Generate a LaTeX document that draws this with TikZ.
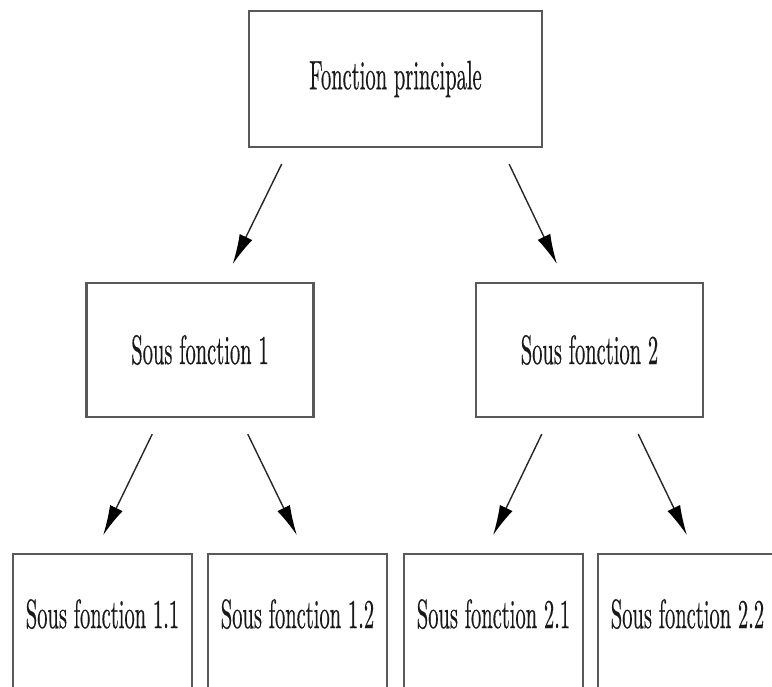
\documentclass[tikz,border=0pt]{standalone}
\usepackage{fontspec}
\setmainfont{lmroman10-regular.otf}[FakeBold=0.6]
\usepackage{graphicx}
\usetikzlibrary{arrows.meta,calc}

% condensed lettering used inside every box
\newcommand\narrowtext[1]{\scalebox{0.5}[1]{#1}}

\tikzset{
  fbox/.style={draw=black!65, line width=2.2pt, rectangle, inner sep=0pt,
    font=\fontsize{41}{49}\selectfont, text=black!90},
  midbox/.style={fbox, minimum width=227pt, minimum height=134pt},
  leafbox/.style={fbox, anchor=north, minimum width=179pt,
    text height=74pt, text depth=140pt},
  link/.style={draw=black!85, line width=1.4pt,
    -{Latex[length=30pt,width=14pt,fill=black,color=black]},
    shorten <=17.7pt, shorten >=19.9pt},
}

\begin{document}
\begin{tikzpicture}[x=1pt,y=1pt]
\useasboundingbox (0,0) rectangle (772,-687);
\clip (0,0) rectangle (772,-687);

% main function
\node[fbox, minimum width=293pt, minimum height=136pt] (top) at (395.5,-79)
  {\narrowtext{Fonction principale}};

% first-level sub-functions
\node[midbox] (s1) at (200,-350) {\narrowtext{Sous fonction 1}};
\node[midbox] (s2) at (589.5,-350) {\narrowtext{Sous fonction 2}};

% second-level sub-functions (boxes run past the lower edge)
\node[leafbox] (b11) at (102.5,-553) {\narrowtext{Sous fonction 1.1}};
\node[leafbox] (b12) at (297.5,-553) {\narrowtext{Sous fonction 1.2}};
\node[leafbox] (b21) at (493.5,-553) {\narrowtext{Sous fonction 2.1}};
\node[leafbox] (b22) at (687.5,-553) {\narrowtext{Sous fonction 2.2}};

% decomposition arrows
\draw[link] ([xshift=-106pt]top.south) -- ([xshift=24pt]s1.north);
\draw[link] ([xshift=106pt]top.south) -- ([xshift=-24pt]s2.north);
\draw[link] ([xshift=-40pt]s1.south) -- ([xshift=-8pt]b11.north);
\draw[link] ([xshift=40pt]s1.south) -- ([xshift=8pt]b12.north);
\draw[link] ([xshift=-40pt]s2.south) -- ([xshift=-9pt]b21.north);
\draw[link] ([xshift=41pt]s2.south) -- ([xshift=8pt]b22.north);
\end{tikzpicture}
\end{document}
